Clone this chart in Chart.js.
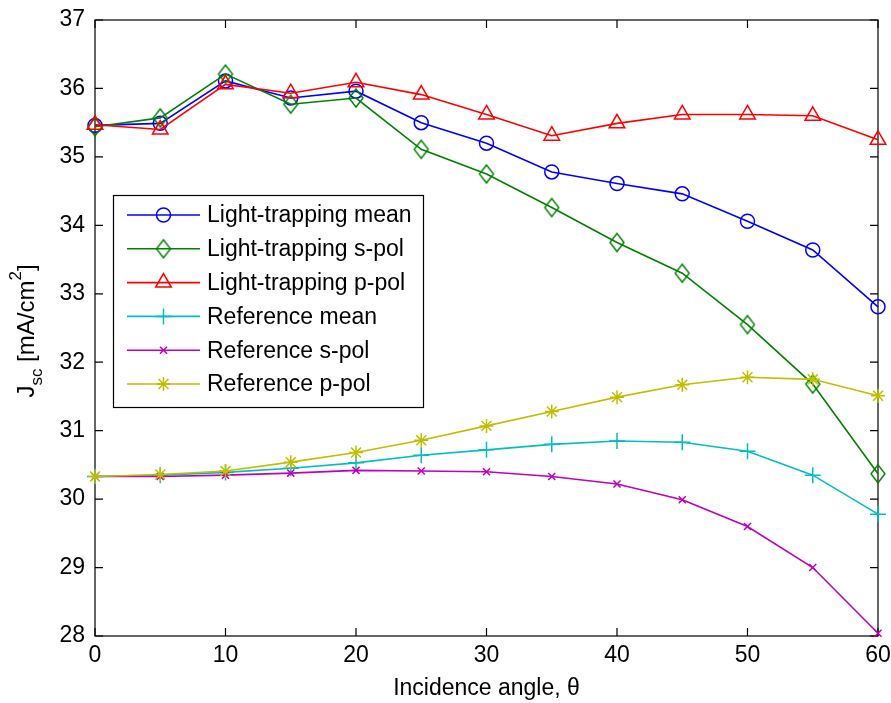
<!DOCTYPE html>
<html>
<head>
<meta charset="utf-8">
<script src="https://cdn.jsdelivr.net/npm/chart.js@4.4.1/dist/chart.umd.min.js"></script>
<style>
  html, body { margin: 0; padding: 0; background: #fff; }
  canvas { display: block; }
</style>
</head>
<body>
<canvas id="c" width="891" height="703"></canvas>
<script>
// ---- data ----
const angles = [0, 5, 10, 15, 20, 25, 30, 35, 40, 45, 50, 55, 60];
const ltMean = [35.46, 35.49, 36.11, 35.86, 35.96, 35.50, 35.20, 34.78, 34.61, 34.46, 34.06, 33.64, 32.81];
const ltSpol = [35.44, 35.57, 36.21, 35.77, 35.86, 35.11, 34.75, 34.26, 33.75, 33.30, 32.55, 31.68, 30.37];
const ltPpol = [35.47, 35.40, 36.06, 35.93, 36.09, 35.91, 35.62, 35.31, 35.49, 35.62, 35.62, 35.60, 35.25];
const refMean = [30.33, 30.35, 30.39, 30.45, 30.53, 30.64, 30.72, 30.80, 30.85, 30.83, 30.70, 30.35, 29.78];
const refSpol = [30.33, 30.33, 30.35, 30.38, 30.42, 30.41, 30.40, 30.33, 30.22, 29.99, 29.60, 29.00, 28.04];
const refPpol = [30.33, 30.36, 30.41, 30.54, 30.68, 30.86, 31.07, 31.28, 31.49, 31.67, 31.78, 31.75, 31.51];
const seriesLabels = ['Light-trapping mean', 'Light-trapping s-pol', 'Light-trapping p-pol',
                      'Reference mean', 'Reference s-pol', 'Reference p-pol'];
const xTickValues = [0, 10, 20, 30, 40, 50, 60];
const yTickValues = [28, 29, 30, 31, 32, 33, 34, 35, 36, 37];
const xTitle = 'Incidence angle, \u03b8';

// ---- styling ----
const FONT = 'Arial, "Liberation Sans", sans-serif';
const colors = ['#0000ff', '#008000', '#ff0000', '#00bfbf', '#bf00bf', '#bfbf00'];

function diamondCanvas(color) {
  const c = document.createElement('canvas');
  c.width = 18; c.height = 22;
  const g = c.getContext('2d');
  g.strokeStyle = color; g.lineWidth = 1.4;
  g.beginPath();
  g.moveTo(9, 2); g.lineTo(16, 11); g.lineTo(9, 20); g.lineTo(2, 11); g.closePath();
  g.stroke();
  return c;
}
const styles = ['circle', diamondCanvas(colors[1]), 'triangle', 'cross', 'crossRot', 'star'];
const radii = [7, 8, 9, 8, 5, 7];
const allSeries = [ltMean, ltSpol, ltPpol, refMean, refSpol, refPpol];

const datasets = allSeries.map((vals, i) => ({
  label: seriesLabels[i],
  data: angles.map((a, k) => ({ x: a, y: vals[k] })),
  borderColor: colors[i],
  backgroundColor: colors[i],
  borderWidth: 1.6,
  tension: 0,
  pointStyle: styles[i],
  pointRadius: radii[i],
  pointHoverRadius: radii[i],
  pointBorderColor: colors[i],
  pointBackgroundColor: 'rgba(0,0,0,0)',
  pointBorderWidth: 1.5,
  clip: false,
  order: 6 - i
}));

const bgPlugin = {
  id: 'bg',
  beforeDraw(chart) {
    const ctx = chart.ctx;
    ctx.save(); ctx.fillStyle = '#fff';
    ctx.fillRect(0, 0, chart.width, chart.height); ctx.restore();
  }
};

const boxPlugin = {
  id: 'box',
  beforeDatasetsDraw(chart) {
    const { ctx, chartArea: a, scales } = chart;
    ctx.save();
    ctx.strokeStyle = '#000'; ctx.lineWidth = 1.2;
    ctx.strokeRect(a.left, a.top, a.right - a.left, a.bottom - a.top);
    const TL = 8;
    ctx.beginPath();
    xTickValues.forEach(v => {
      const px = scales.x.getPixelForValue(v);
      ctx.moveTo(px, a.bottom); ctx.lineTo(px, a.bottom - TL);
      ctx.moveTo(px, a.top); ctx.lineTo(px, a.top + TL);
    });
    yTickValues.forEach(v => {
      const py = scales.y.getPixelForValue(v);
      ctx.moveTo(a.left, py); ctx.lineTo(a.left + TL, py);
      ctx.moveTo(a.right, py); ctx.lineTo(a.right - TL, py);
    });
    ctx.stroke();
    ctx.restore();
  }
};

const legendPlugin = {
  id: 'legendBox',
  afterDatasetsDraw(chart) {
    const ctx = chart.ctx;
    const bx = 113.5, by = 195.5, bw = 310, bh = 212;
    ctx.save();
    ctx.fillStyle = '#fff';
    ctx.fillRect(bx, by, bw, bh);
    ctx.strokeStyle = '#000'; ctx.lineWidth = 1.2;
    ctx.strokeRect(bx, by, bw, bh);
    chart.data.datasets.forEach((ds, i) => {
      const y = 215 + i * 33.8;
      ctx.strokeStyle = ds.borderColor; ctx.lineWidth = ds.borderWidth;
      ctx.beginPath(); ctx.moveTo(127, y); ctx.lineTo(200, y); ctx.stroke();
      ctx.save();
      ctx.strokeStyle = ds.pointBorderColor;
      ctx.fillStyle = 'rgba(0,0,0,0)';
      ctx.lineWidth = ds.pointBorderWidth;
      Chart.helpers.drawPoint(ctx, {
        pointStyle: ds.pointStyle, radius: ds.pointRadius, rotation: 0,
        borderWidth: ds.pointBorderWidth
      }, 163.5, y);
      ctx.restore();
      ctx.fillStyle = '#000';
      ctx.font = '23px ' + FONT;
      ctx.textBaseline = 'middle'; ctx.textAlign = 'left';
      ctx.fillText(ds.label, 207, y + 1);
    });
    ctx.restore();
  }
};

const yTitlePlugin = {
  id: 'yTitle',
  afterDraw(chart) {
    const ctx = chart.ctx;
    const parts = [
      { t: 'J', f: 24, dy: 0 },
      { t: 'sc', f: 17, dy: 8 },
      { t: ' [mA/cm', f: 24, dy: 0 },
      { t: '2', f: 17, dy: -13 },
      { t: ']', f: 24, dy: 0 }
    ];
    ctx.save();
    let total = 0;
    parts.forEach(p => { ctx.font = p.f + 'px ' + FONT; p.w = ctx.measureText(p.t).width; total += p.w; });
    ctx.translate(34, 331);
    ctx.rotate(-Math.PI / 2);
    ctx.fillStyle = '#000';
    ctx.textBaseline = 'alphabetic'; ctx.textAlign = 'left';
    let x = -total / 2;
    parts.forEach(p => {
      ctx.font = p.f + 'px ' + FONT;
      ctx.fillText(p.t, x, p.dy);
      x += p.w;
    });
    ctx.restore();
  }
};

new Chart(document.getElementById('c'), {
  type: 'line',
  data: { datasets },
  options: {
    responsive: false,
    animation: false,
    events: [],
    layout: { padding: { top: 20, right: 13, left: 0, bottom: 0 } },
    plugins: { legend: { display: false }, tooltip: { enabled: false } },
    scales: {
      x: {
        type: 'linear', min: 0, max: 60,
        afterFit(scale) { scale.height = 67; scale.paddingLeft = 0; scale.paddingRight = 0; },
        afterBuildTicks(scale) { scale.ticks = xTickValues.map(v => ({ value: v })); },
        grid: { display: false, drawTicks: false },
        border: { display: false },
        ticks: { color: '#000', font: { family: FONT, size: 23 }, padding: 6, maxRotation: 0 },
        title: { display: true, text: xTitle, color: '#000', font: { family: FONT, size: 23 }, padding: { top: 0, bottom: 1 } }
      },
      y: {
        type: 'linear', min: 28, max: 37,
        afterFit(scale) { scale.width = 95; scale.paddingTop = 0; scale.paddingBottom = 0; },
        afterBuildTicks(scale) { scale.ticks = yTickValues.map(v => ({ value: v })); },
        grid: { display: false, drawTicks: false },
        border: { display: false },
        ticks: { color: '#000', font: { family: FONT, size: 23 }, padding: 10 }
      }
    }
  },
  plugins: [bgPlugin, boxPlugin, legendPlugin, yTitlePlugin]
});
</script>
</body>
</html>
